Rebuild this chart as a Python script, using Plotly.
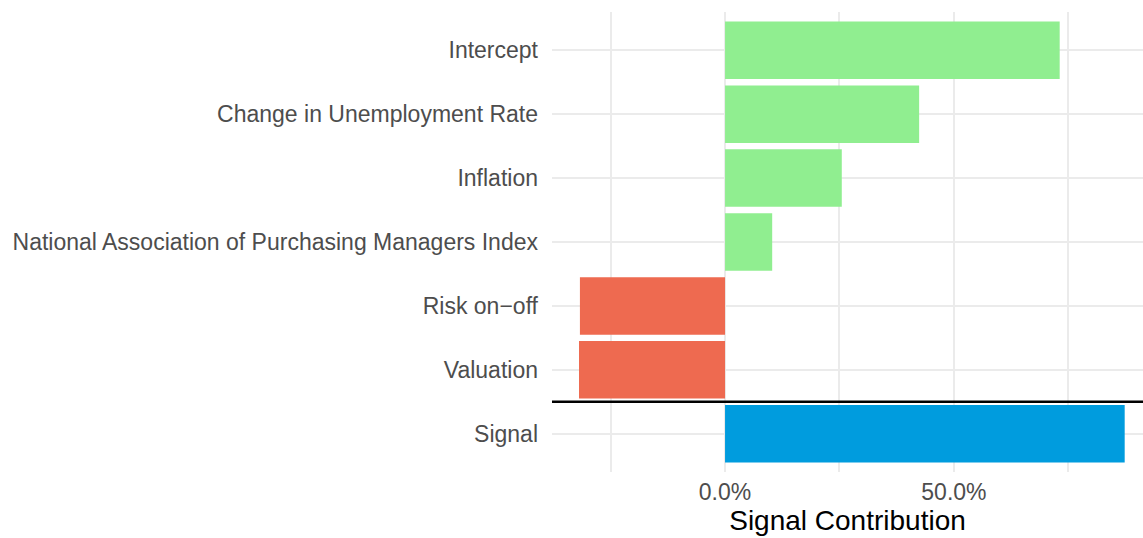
import plotly.graph_objects as go

categories = ["Signal", "Valuation", "Risk on\u2212off",
              "National Association of Purchasing Managers Index",
              "Inflation", "Change in Unemployment Rate", "Intercept"]
values = [0.873, -0.319, -0.317, 0.103, 0.255, 0.424, 0.731]
colors = ["#009CDE", "#EE6A50", "#EE6A50", "#90EE90", "#90EE90", "#90EE90", "#90EE90"]

fig = go.Figure()
fig.add_trace(go.Bar(
    y=categories, x=values, orientation="h",
    marker=dict(color=colors, line=dict(width=0)),
    width=0.9, showlegend=False, hoverinfo="x+y",
))

fig.add_shape(type="line", xref="paper", x0=0, x1=1, yref="y", y0=0.5, y1=0.5,
              line=dict(color="black", width=2.5), layer="above")

fig.update_layout(
    width=1143, height=538,
    margin=dict(l=552, r=0, t=12, b=66),
    paper_bgcolor="white", plot_bgcolor="white",
    font=dict(family="Liberation Sans, Arial, sans-serif"),
    bargap=0.1,
    xaxis=dict(
        range=[-0.378, 0.913],
        tick0=0, dtick=0.5, tickformat=".1%",
        showgrid=True, gridcolor="#EBEBEB", gridwidth=2,
        minor=dict(dtick=0.25, tick0=0, showgrid=True, gridcolor="#EBEBEB", gridwidth=1.5),
        zeroline=False, showline=False, ticks="",
        tickfont=dict(size=23, color="#4D4D4D"),
        ticklabelstandoff=4,
        title=dict(text="Signal Contribution", font=dict(size=28, color="black"), standoff=5),
    ),
    yaxis=dict(
        type="category", categoryorder="array", categoryarray=categories,
        range=[-0.6, 6.6],
        showgrid=True, gridcolor="#EBEBEB", gridwidth=2,
        zeroline=False, showline=False, ticks="",
        tickfont=dict(size=23, color="#4D4D4D"),
        ticklabelstandoff=13,
    ),
)

fig.write_html("out.html", config={"displayModeBar": False},
               post_script="document.body.style.margin='0';")
